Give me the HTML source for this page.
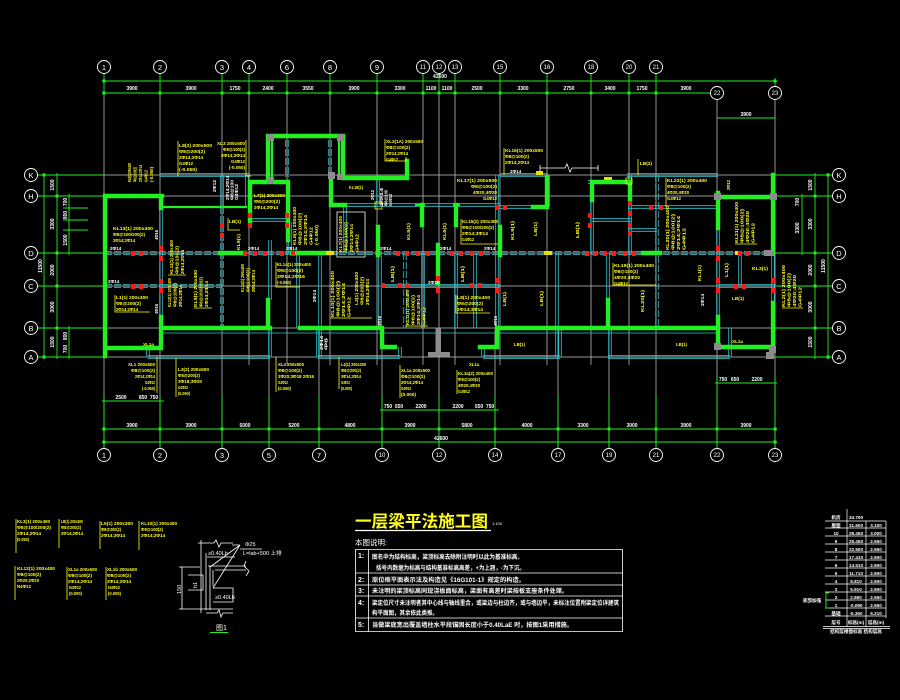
<!DOCTYPE html>
<html><head><meta charset="utf-8"><style>
html,body{margin:0;padding:0;background:#000;}
svg{display:block}
.ax{stroke:#c4c4c4;stroke-width:.75;fill:none}
.gl{stroke:#1ef01e;stroke-width:.9;fill:none}
.wl{stroke:#22f022;stroke-width:4.4;fill:none;stroke-linecap:square}
.wt{stroke:#22f022;stroke-width:2.2;fill:none}
.cy{stroke:#2cc8d0;stroke-width:.8;fill:none}
.cyd{stroke:#2cc8d0;stroke-width:.8;fill:none;stroke-dasharray:7 2}
.ci{stroke:#fff;stroke-width:.9;fill:#000}
.cl{fill:#fff;font:7.5px "Liberation Sans",sans-serif;text-anchor:middle}
.cs{fill:#fff;font:6px "Liberation Sans",sans-serif;text-anchor:middle}
.dt{fill:#fff;font:bold 5px "Liberation Sans",sans-serif;text-anchor:middle}
.y{fill:#ffff1a;font:bold 4.6px "Liberation Sans","Noto Sans CJK SC",sans-serif}
.yl{stroke:#ffff1a;stroke-width:.8;fill:none}
.w{fill:#fff;font:bold 4.5px "Liberation Sans",sans-serif}
.rd{fill:#ff1a1a}
.gy{fill:#8c8c8c}
.n{fill:#fff;font:bold 6px "Liberation Sans","Noto Sans CJK SC",sans-serif}
.tb{fill:#fff;font:bold 4.6px "Liberation Sans","Noto Sans CJK SC",sans-serif;text-anchor:middle}
.wh{stroke:#fff;stroke-width:.8;fill:none}
</style></head><body>
<svg width="900" height="700" viewBox="0 0 900 700" xmlns="http://www.w3.org/2000/svg">
<rect width="900" height="700" fill="#000"/>

<!-- axis lines -->
<path class="ax" d="M104,96V449M160,96V449M222,96V449M249,96V365M287,96V365M330,96V365M377,96V365M423,96V365M439,96V449M455,96V365M500,96V365M547,96V365M591,96V365M629,96V365M656,96V449M717,100V449M775,100V449M269,330V449M319,330V449M382,330V449M495,330V449M558,330V449M609,330V449"/>
<path class="ax" d="M104,175H775M104,196H775M104,253H775M104,286H775M104,328H775M104,357H775"/>
<path class="gl" d="M104,74V96M160,74V96M222,74V96M249,74V96M287,74V96M330,74V96M377,74V96M423,74V96M439,74V96M455,74V96M500,74V96M547,74V96M591,74V96M629,74V96M656,74V96M775,78V86"/>
<path class="gl" d="M104,395V448M160,395V448M222,395V448M269,395V448M319,395V448M382,395V448M439,395V448M495,395V448M558,395V448M609,395V448M656,395V448M717,375V448M775,375V448"/>
<!-- dim lines -->
<path class="gl" d="M102,81H777M102,93H711M717,118H775M102,429H777M102,442H777M102,401H164M380,410H499M715,383H777"/>
<path class="gl" d="M37.5,175H104M37.5,196H104M37.5,253H104M37.5,286H104M37.5,328H104M37.5,357H104M775,175H832.5M775,196H832.5M775,253H832.5M775,286H832.5M775,328H832.5M775,357H832.5"/>
<path class="gl" d="M44,173V359M57,173V359M69,194V255M69,326V359M815,173V359M828,173V359M802,194V255M63,208H88M63,220H88M63,230H88"/>
<g fill="#1ef01e">
<rect x="102.5" y="79.5" width="3" height="3"/><rect x="773.5" y="79.5" width="3" height="3"/>
<rect x="102.5" y="91.5" width="3" height="3"/><rect x="158.5" y="91.5" width="3" height="3"/><rect x="220.5" y="91.5" width="3" height="3"/><rect x="247.5" y="91.5" width="3" height="3"/><rect x="285.5" y="91.5" width="3" height="3"/><rect x="328.5" y="91.5" width="3" height="3"/><rect x="375.5" y="91.5" width="3" height="3"/><rect x="421.5" y="91.5" width="3" height="3"/><rect x="437.5" y="91.5" width="3" height="3"/><rect x="453.5" y="91.5" width="3" height="3"/><rect x="498.5" y="91.5" width="3" height="3"/><rect x="545.5" y="91.5" width="3" height="3"/><rect x="589.5" y="91.5" width="3" height="3"/><rect x="627.5" y="91.5" width="3" height="3"/><rect x="654.5" y="91.5" width="3" height="3"/>
<rect x="102.5" y="427.5" width="3" height="3"/><rect x="158.5" y="427.5" width="3" height="3"/><rect x="220.5" y="427.5" width="3" height="3"/><rect x="267.5" y="427.5" width="3" height="3"/><rect x="317.5" y="427.5" width="3" height="3"/><rect x="380.5" y="427.5" width="3" height="3"/><rect x="437.5" y="427.5" width="3" height="3"/><rect x="493.5" y="427.5" width="3" height="3"/><rect x="556.5" y="427.5" width="3" height="3"/><rect x="607.5" y="427.5" width="3" height="3"/><rect x="654.5" y="427.5" width="3" height="3"/><rect x="715.5" y="427.5" width="3" height="3"/><rect x="773.5" y="427.5" width="3" height="3"/>
<rect x="102.5" y="440.5" width="3" height="3"/><rect x="773.5" y="440.5" width="3" height="3"/>
<rect x="42.5" y="173.5" width="3" height="3"/><rect x="55.5" y="194.5" width="3" height="3"/><rect x="55.5" y="251.5" width="3" height="3"/><rect x="55.5" y="284.5" width="3" height="3"/><rect x="55.5" y="326.5" width="3" height="3"/><rect x="42.5" y="355.5" width="3" height="3"/>
<rect x="813.5" y="194.5" width="3" height="3"/><rect x="813.5" y="251.5" width="3" height="3"/><rect x="813.5" y="284.5" width="3" height="3"/><rect x="813.5" y="326.5" width="3" height="3"/><rect x="826.5" y="173.5" width="3" height="3"/><rect x="826.5" y="355.5" width="3" height="3"/>
</g>

<!-- circles -->
<g class="ci">
<circle cx="104" cy="67" r="6.5"/><circle cx="160" cy="67" r="6.5"/><circle cx="222" cy="67" r="6.5"/><circle cx="249" cy="67" r="6.5"/><circle cx="287" cy="67" r="6.5"/><circle cx="330" cy="67" r="6.5"/><circle cx="377" cy="67" r="6.5"/><circle cx="423" cy="67" r="6.5"/><circle cx="439" cy="67" r="6.5"/><circle cx="455" cy="67" r="6.5"/><circle cx="500" cy="67" r="6.5"/><circle cx="547" cy="67" r="6.5"/><circle cx="591" cy="67" r="6.5"/><circle cx="629" cy="67" r="6.5"/><circle cx="656" cy="67" r="6.5"/><circle cx="717" cy="93" r="6.5"/><circle cx="775" cy="93" r="6.5"/>
<circle cx="104" cy="455" r="6.5"/><circle cx="160" cy="455" r="6.5"/><circle cx="222" cy="455" r="6.5"/><circle cx="269" cy="455" r="6.5"/><circle cx="319" cy="455" r="6.5"/><circle cx="382" cy="455" r="6.5"/><circle cx="439" cy="455" r="6.5"/><circle cx="495" cy="455" r="6.5"/><circle cx="558" cy="455" r="6.5"/><circle cx="609" cy="455" r="6.5"/><circle cx="656" cy="455" r="6.5"/><circle cx="717" cy="455" r="6.5"/><circle cx="775" cy="455" r="6.5"/>
<circle cx="31" cy="175" r="6.5"/><circle cx="31" cy="196" r="6.5"/><circle cx="31" cy="253" r="6.5"/><circle cx="31" cy="286" r="6.5"/><circle cx="31" cy="328" r="6.5"/><circle cx="31" cy="357" r="6.5"/>
<circle cx="839" cy="175" r="6.5"/><circle cx="839" cy="196" r="6.5"/><circle cx="839" cy="253" r="6.5"/><circle cx="839" cy="286" r="6.5"/><circle cx="839" cy="328" r="6.5"/><circle cx="839" cy="357" r="6.5"/>
</g>
<g class="cl">
<text x="104" y="70">1</text><text x="160" y="70">2</text><text x="222" y="70">3</text><text x="249" y="70">4</text><text x="287" y="70">6</text><text x="330" y="70">8</text><text x="377" y="70">9</text>
<text x="104" y="458">1</text><text x="160" y="458">2</text><text x="222" y="458">3</text><text x="269" y="458">5</text><text x="319" y="458">7</text>
<text x="31" y="178">K</text><text x="31" y="199">H</text><text x="31" y="256">D</text><text x="31" y="289">C</text><text x="31" y="331">B</text><text x="31" y="360">A</text>
<text x="839" y="178">K</text><text x="839" y="199">H</text><text x="839" y="256">D</text><text x="839" y="289">C</text><text x="839" y="331">B</text><text x="839" y="360">A</text>
</g>
<g class="cs">
<text x="423" y="69.2">11</text><text x="439" y="69.2">12</text><text x="455" y="69.2">13</text><text x="500" y="69.2">15</text><text x="547" y="69.2">16</text><text x="591" y="69.2">18</text><text x="629" y="69.2">20</text><text x="656" y="69.2">21</text><text x="717" y="95.2">22</text><text x="775" y="95.2">23</text>
<text x="382" y="457.2">10</text><text x="439" y="457.2">12</text><text x="495" y="457.2">14</text><text x="558" y="457.2">17</text><text x="609" y="457.2">19</text><text x="656" y="457.2">21</text><text x="717" y="457.2">22</text><text x="775" y="457.2">23</text>
</g>

<!-- dim texts -->
<g class="dt">
<text x="132" y="90">3900</text><text x="191" y="90">3900</text><text x="235" y="90">1750</text><text x="268" y="90">2400</text><text x="308" y="90">3550</text><text x="354" y="90">3900</text><text x="400" y="90">3300</text><text x="431" y="90">1100</text><text x="447" y="90">1100</text><text x="477" y="90">2500</text><text x="523" y="90">3300</text><text x="569" y="90">2750</text><text x="610" y="90">3400</text><text x="642" y="90">1750</text><text x="686" y="90">3900</text><text x="746" y="116">3900</text><text x="440" y="78">42600</text>
<text x="132" y="427">3900</text><text x="191" y="427">3900</text><text x="245" y="427">5000</text><text x="294" y="427">5200</text><text x="350" y="427">4800</text><text x="410" y="427">3900</text><text x="467" y="427">5800</text><text x="527" y="427">4000</text><text x="583" y="427">3300</text><text x="632" y="427">3000</text><text x="686" y="427">3900</text><text x="746" y="427">3900</text><text x="441" y="440">42600</text>
<text x="121" y="399">2500</text><text x="143" y="399">850</text><text x="154" y="399">750</text>
<text x="388" y="408">750</text><text x="399" y="408">550</text><text x="421" y="408">2200</text><text x="458" y="408">2200</text><text x="479" y="408">550</text><text x="490" y="408">750</text>
<text x="723" y="381">750</text><text x="735" y="381">650</text><text x="757" y="381">2200</text>
</g>
<g class="dt">
<text transform="translate(54,185) rotate(-90)">1500</text><text transform="translate(54,224) rotate(-90)">3300</text><text transform="translate(54,270) rotate(-90)">2000</text><text transform="translate(54,307) rotate(-90)">3000</text><text transform="translate(54,342) rotate(-90)">1500</text><text transform="translate(42,266) rotate(-90)">11500</text>
<text transform="translate(67,202) rotate(-90)">700</text><text transform="translate(67,215) rotate(-90)">800</text><text transform="translate(67,240) rotate(-90)">1500</text><text transform="translate(67,336) rotate(-90)">800</text><text transform="translate(67,349) rotate(-90)">700</text>
<text transform="translate(812,185) rotate(-90)">1500</text><text transform="translate(812,224) rotate(-90)">3300</text><text transform="translate(812,270) rotate(-90)">2000</text><text transform="translate(812,307) rotate(-90)">3000</text><text transform="translate(812,342) rotate(-90)">1500</text><text transform="translate(825,266) rotate(-90)">11500</text>
<text transform="translate(799,228) rotate(-90)">3300</text><text transform="translate(799,202) rotate(-90)">700</text>
</g>

<!-- cyan beams -->
<path class="cy" d="M160,173.7H250M160,176.3H250M500,173.7H548M500,176.3H548M627,173.7H718M627,176.3H718M588,180.7H632M588,183.3H632M628,205.7H718M628,208.3H718M250,218.7H290M250,221.3H290M592,218.7H632M592,221.3H632M628,228.7H657M628,231.3H657M343,203.7H500M343,206.3H500M497,205.7H548M497,208.3H548M382,284.7H500M382,287.3H500M718,284.7H775M718,287.3H775M148,355.7H270M148,358.3H270M318,355.7H400M318,358.3H400M483,355.7H560M483,358.3H560M608,355.7H730M608,358.3H730M163,333H718"/>
<path class="cyd" d="M105,251.7H775M105,254.3H775M105,284.7H162M105,287.3H162M162,284.7H222M162,287.3H222"/>
<path class="cy" d="M159.7,208V317M162.3,208V317M220.7,175V207M223.3,175V207M245.7,175V207M248.3,175V207M268.7,240V300M271.3,240V300M288.7,222V253M291.3,222V253M296.7,253V328M299.3,253V328M318.7,253V357M321.3,253V357M343.7,205V253M346.3,205V253M376.7,175V205M379.3,175V205M378.7,253V328M381.3,253V328M421.7,253V328M424.3,253V328M454.7,253V328M457.3,253V328M473.7,253V328M476.3,253V328M495.7,175V253M498.3,175V253M495.7,253V328M498.3,253V328M546.7,175V207M549.3,175V207M555.7,253V357M558.3,253V357M590.7,182V253M593.3,182V253M606.7,253V300M609.3,253V300M628.7,175V253M631.3,175V253M716.7,228V317M719.3,228V317M738.7,253V286M741.3,253V286M771.7,253V303M774.3,253V303M608.7,328V357M611.3,328V357M728.7,328V357M731.3,328V357M146.7,345V357M149.3,345V357M268.7,328V357M271.3,328V357M316.7,328V357M319.3,328V357M398.7,347V357M401.3,347V357M481.7,347V357M484.3,347V357M558.7,328V357M561.3,328V357"/>
<path class="cyd" d="M220.7,207V328M223.3,207V328M403.7,253V328M406.3,253V328M655.7,175V328M658.3,175V328M285.7,140V177M288.3,140V177M328.7,140V177M331.3,140V177"/>

<!-- green walls -->
<path class="wl" d="M105,196H162M105,196V356M105,348H160M161,196V208M161,317V348M163,328H270M268,300V328M250,222V182H288V240M268,182V136H343V177M331,177V205M343,178H407V161M220,253H245M292,253H330M332,205H345M378,227V255M500,227V255M547,177V207H533M438,245V283M300,328H382V347H395M497,328H718M497,347H480M497,328V347M608,300V328M718,193V228M718,317V347H773M718,197H773M773,175V253M773,303V350M592,200V182H630V200M643,253H660M422,205V225M456,205V225"/>
<path class="wt" d="M163,207H247M415,205H425M453,205H460M272,140V177M339,140V177"/>

<!-- gray / yellow columns -->
<g class="gy">
<rect x="267" y="134" width="7" height="7"/><rect x="337" y="134" width="7" height="7"/><rect x="267" y="177" width="7" height="7"/><rect x="328" y="172" width="7" height="7"/><rect x="337" y="174" width="6" height="6"/>
<rect x="714" y="193" width="7" height="7"/><rect x="770" y="193" width="7" height="7"/><rect x="764" y="250" width="10" height="6"/><rect x="714" y="343" width="7" height="7"/><rect x="769" y="346" width="7" height="7"/><rect x="766" y="352" width="8" height="7"/>
<rect x="435.5" y="328" width="5.5" height="25"/><rect x="428" y="352" width="22" height="4.5"/>
</g>
<g fill="#e8e000">
<rect x="536" y="171" width="7" height="4"/><rect x="326" y="251" width="8" height="4"/><rect x="544" y="251" width="8" height="4"/><rect x="604" y="177" width="8" height="3"/><rect x="735" y="251" width="7" height="4"/>
</g>
<path class="yl" d="M375,202h7v7h-7zM626,178h6v6h-6z"/>

<!-- red columns -->
<g class="rd">
<rect x="159" y="246" width="4" height="5"/><rect x="159" y="256" width="4" height="5"/><rect x="159" y="279" width="4" height="5"/><rect x="159" y="288" width="4" height="5"/><rect x="131" y="251" width="4" height="5"/><rect x="139" y="251" width="4" height="5"/><rect x="131" y="284" width="4" height="5"/><rect x="139" y="284" width="4" height="5"/>
<rect x="220" y="223" width="4" height="5"/><rect x="220" y="233" width="4" height="5"/><rect x="248" y="213" width="4" height="5"/><rect x="248" y="223" width="4" height="5"/><rect x="243" y="251" width="4" height="5"/><rect x="253" y="251" width="4" height="5"/><rect x="263" y="251" width="4" height="5"/><rect x="280" y="251" width="4" height="5"/><rect x="285" y="213" width="4" height="5"/><rect x="285" y="223" width="4" height="5"/><rect x="291" y="251" width="4" height="5"/>
<rect x="396" y="251" width="4" height="5"/><rect x="405" y="251" width="4" height="5"/><rect x="416" y="251" width="4" height="5"/><rect x="426" y="251" width="4" height="5"/><rect x="450" y="251" width="4" height="5"/><rect x="459" y="251" width="4" height="5"/><rect x="470" y="251" width="4" height="5"/><rect x="479" y="251" width="4" height="5"/>
<rect x="381" y="283" width="4" height="5"/><rect x="398" y="283" width="4" height="5"/><rect x="405" y="283" width="4" height="5"/><rect x="436" y="276" width="4" height="5"/><rect x="436" y="288" width="4" height="5"/><rect x="470" y="283" width="4" height="5"/><rect x="478" y="283" width="4" height="5"/><rect x="495" y="278" width="4" height="5"/><rect x="495" y="288" width="4" height="5"/><rect x="495" y="205" width="4" height="5"/><rect x="503" y="205" width="4" height="5"/>
<rect x="585" y="251" width="4" height="5"/><rect x="593" y="251" width="4" height="5"/><rect x="588" y="213" width="4" height="5"/><rect x="588" y="223" width="4" height="5"/>
<rect x="628" y="201" width="4" height="5"/><rect x="628" y="211" width="4" height="5"/><rect x="628" y="223" width="4" height="5"/><rect x="628" y="231" width="4" height="5"/><rect x="649" y="205" width="4" height="5"/><rect x="659" y="205" width="4" height="5"/>
<rect x="603" y="251" width="4" height="5"/><rect x="612" y="251" width="4" height="5"/><rect x="623" y="251" width="4" height="5"/><rect x="632" y="251" width="4" height="5"/>
<rect x="716" y="246" width="4" height="5"/><rect x="716" y="256" width="4" height="5"/><rect x="716" y="278" width="4" height="5"/><rect x="716" y="288" width="4" height="5"/><rect x="734" y="284" width="4" height="5"/><rect x="742" y="284" width="4" height="5"/><rect x="771" y="278" width="4" height="5"/><rect x="771" y="288" width="4" height="5"/><rect x="738" y="251" width="4" height="5"/><rect x="745" y="251" width="4" height="5"/>
</g>

<!-- break line -->
<path class="wh" d="M540,168H565L567,164L570,172L572,168H598M540,165V171M598,165V171"/>
<path class="wh" d="M337,212H365V257H337Z"/>

<!-- yellow leaders -->
<path class="yl" d="M178,141V176M246,140V176H251M385,139V161H406V157M504,148V175M638,159V175M666,178V207M115,295V312H150M228,218V230H240M276,262V287H300M461,219V244H498M456,295V313H490M613,263V285H656M157,357V393M176,358V397M276,357V392M339,357V389M400,365V398M457,370V394M16,519V553M59,519V548M100,521V549M139,521V550M15,566V600M67,567V600M106,567V600M168,275H186M194,308H212M330,318H372M405,326H428M735,244H757M782,308H803"/>

<!-- yellow horizontal blocks -->
<g class="y">
<text x="179" y="147" textLength="33" lengthAdjust="spacingAndGlyphs">L8(2) 200x500</text><text x="179" y="153" textLength="26" lengthAdjust="spacingAndGlyphs">Φ8@200(2)</text><text x="179" y="159" textLength="24" lengthAdjust="spacingAndGlyphs">2Φ14;2Φ14</text><text x="179" y="165" textLength="14" lengthAdjust="spacingAndGlyphs">G4Φ12</text><text x="179" y="171" textLength="18" lengthAdjust="spacingAndGlyphs">(-0.050)</text>
<text x="217" y="145" textLength="28" lengthAdjust="spacingAndGlyphs">XL3 200x500</text><text x="223" y="151" textLength="22" lengthAdjust="spacingAndGlyphs">Φ8@100(2)</text><text x="221" y="157" textLength="24" lengthAdjust="spacingAndGlyphs">3Φ14;3Φ14</text><text x="231" y="163" textLength="14" lengthAdjust="spacingAndGlyphs">G4Φ12</text><text x="229" y="169" textLength="16" lengthAdjust="spacingAndGlyphs">(-0.050)</text>
<text x="386" y="143" textLength="37" lengthAdjust="spacingAndGlyphs">XL2(1A) 200x500</text><text x="386" y="149" textLength="24" lengthAdjust="spacingAndGlyphs">Φ8@100(2)</text><text x="386" y="155" textLength="22" lengthAdjust="spacingAndGlyphs">2Φ14;2Φ14</text><text x="386" y="161" textLength="12" lengthAdjust="spacingAndGlyphs">G4Φ12</text>
<text x="505" y="152" textLength="38" lengthAdjust="spacingAndGlyphs">KL16(1) 200x500</text><text x="505" y="158" textLength="24" lengthAdjust="spacingAndGlyphs">Φ8@100(2)</text><text x="505" y="164" textLength="24" lengthAdjust="spacingAndGlyphs">2Φ14;2Φ14</text>
<text x="640" y="165" textLength="12" lengthAdjust="spacingAndGlyphs">LB(2)</text>
<text x="457" y="182" textLength="40" lengthAdjust="spacingAndGlyphs">KL17(1) 200x500</text><text x="471" y="188" textLength="26" lengthAdjust="spacingAndGlyphs">Φ8@100(2)</text><text x="473" y="194" textLength="24" lengthAdjust="spacingAndGlyphs">4Φ20;4Φ20</text><text x="483" y="200" textLength="14" lengthAdjust="spacingAndGlyphs">G4Φ12</text>
<text x="667" y="182" textLength="40" lengthAdjust="spacingAndGlyphs">KL22(1) 200x400</text><text x="667" y="188" textLength="24" lengthAdjust="spacingAndGlyphs">Φ8@100(2)</text><text x="667" y="194" textLength="22" lengthAdjust="spacingAndGlyphs">4Φ20;4Φ20</text><text x="667" y="200" textLength="14" lengthAdjust="spacingAndGlyphs">G4Φ12</text>
<text x="349" y="189" textLength="14" lengthAdjust="spacingAndGlyphs">KL18(1)</text>
<text x="113" y="230" textLength="40" lengthAdjust="spacingAndGlyphs">KL13(1) 200x400</text><text x="113" y="236" textLength="32" lengthAdjust="spacingAndGlyphs">Φ8@100/200(2)</text><text x="113" y="242" textLength="22" lengthAdjust="spacingAndGlyphs">2Φ14;2Φ14</text>
<text x="116" y="299" textLength="32" lengthAdjust="spacingAndGlyphs">L1(1) 200x300</text><text x="116" y="305" textLength="25" lengthAdjust="spacingAndGlyphs">Φ8@200(2)</text><text x="116" y="311" textLength="22" lengthAdjust="spacingAndGlyphs">2Φ14;2Φ14</text>
<text x="229" y="223" textLength="12" lengthAdjust="spacingAndGlyphs">LB(1)</text>
<text x="254" y="197" textLength="31" lengthAdjust="spacingAndGlyphs">L7(1) 200x300</text><text x="254" y="203" textLength="26" lengthAdjust="spacingAndGlyphs">Φ8@200(2)</text><text x="254" y="209" textLength="24" lengthAdjust="spacingAndGlyphs">2Φ14;2Φ14</text>
<text x="277" y="266" textLength="34" lengthAdjust="spacingAndGlyphs">KL14(1) 200x400</text><text x="277" y="272" textLength="26" lengthAdjust="spacingAndGlyphs">Φ8@100(2)</text><text x="277" y="278" textLength="28" lengthAdjust="spacingAndGlyphs">2Φ14;2Φ16</text><text x="277" y="284" textLength="14" lengthAdjust="spacingAndGlyphs">(-0.050)</text>
<text x="462" y="223" textLength="36" lengthAdjust="spacingAndGlyphs">KL15(2) 200x300</text><text x="462" y="229" textLength="32" lengthAdjust="spacingAndGlyphs">Φ8@100/200(2)</text><text x="462" y="235" textLength="26" lengthAdjust="spacingAndGlyphs">2Φ14;3Φ14</text><text x="462" y="241" textLength="12" lengthAdjust="spacingAndGlyphs">G4Φ12</text>
<text x="457" y="299" textLength="33" lengthAdjust="spacingAndGlyphs">L8(1) 200x400</text><text x="457" y="305" textLength="26" lengthAdjust="spacingAndGlyphs">Φ8@200(2)</text><text x="457" y="311" textLength="26" lengthAdjust="spacingAndGlyphs">2Φ14;3Φ14</text>
<text x="614" y="267" textLength="40" lengthAdjust="spacingAndGlyphs">KL19(1) 200x400</text><text x="614" y="273" textLength="24" lengthAdjust="spacingAndGlyphs">Φ8@100(2)</text><text x="614" y="279" textLength="26" lengthAdjust="spacingAndGlyphs">4Φ20;4Φ20</text><text x="614" y="285" textLength="14" lengthAdjust="spacingAndGlyphs">G4Φ12</text>
<text x="752" y="270" textLength="16" lengthAdjust="spacingAndGlyphs">KL3(1)</text>
<text x="732" y="300" textLength="12" lengthAdjust="spacingAndGlyphs">LB(1)</text>
<text x="128" y="366" textLength="27" lengthAdjust="spacingAndGlyphs">XL1 200x500</text><text x="131" y="372" textLength="24" lengthAdjust="spacingAndGlyphs">Φ8@100(2)</text><text x="135" y="378" textLength="20" lengthAdjust="spacingAndGlyphs">2Φ14;2Φ14</text><text x="145" y="384" textLength="10" lengthAdjust="spacingAndGlyphs">G4Φ12</text><text x="142" y="390" textLength="13" lengthAdjust="spacingAndGlyphs">(-0.050)</text>
<text x="178" y="371" textLength="31" lengthAdjust="spacingAndGlyphs">L3(2) 200x500</text><text x="178" y="377" textLength="22" lengthAdjust="spacingAndGlyphs">Φ8@200(2)</text><text x="178" y="383" textLength="24" lengthAdjust="spacingAndGlyphs">3Φ18;3Φ20</text><text x="178" y="389" textLength="10" lengthAdjust="spacingAndGlyphs">G4Φ12</text><text x="178" y="395" textLength="12" lengthAdjust="spacingAndGlyphs">(0.050)</text>
<text x="278" y="366" textLength="26" lengthAdjust="spacingAndGlyphs">XL4 200x500</text><text x="278" y="372" textLength="24" lengthAdjust="spacingAndGlyphs">Φ8@100(2)</text><text x="278" y="378" textLength="36" lengthAdjust="spacingAndGlyphs">3Φ20;3Φ18 2Φ16</text><text x="278" y="384" textLength="10" lengthAdjust="spacingAndGlyphs">G4Φ12</text><text x="278" y="390" textLength="13" lengthAdjust="spacingAndGlyphs">(0.050)</text>
<text x="341" y="366" textLength="25" lengthAdjust="spacingAndGlyphs">L4(1) 200x300</text><text x="341" y="372" textLength="20" lengthAdjust="spacingAndGlyphs">Φ8@200(2)</text><text x="341" y="378" textLength="20" lengthAdjust="spacingAndGlyphs">3Φ14;3Φ14</text><text x="341" y="384" textLength="9" lengthAdjust="spacingAndGlyphs">G4Φ12</text><text x="341" y="390" textLength="11" lengthAdjust="spacingAndGlyphs">(0.000)</text>
<text x="401" y="372" textLength="29" lengthAdjust="spacingAndGlyphs">XL1a 200x500</text><text x="401" y="378" textLength="24" lengthAdjust="spacingAndGlyphs">Φ8@100(2)</text><text x="401" y="384" textLength="22" lengthAdjust="spacingAndGlyphs">2Φ14;2Φ14</text><text x="401" y="390" textLength="10" lengthAdjust="spacingAndGlyphs">G4Φ12</text><text x="401" y="396" textLength="15" lengthAdjust="spacingAndGlyphs">(0.000)</text>
<text x="469" y="366" textLength="10" lengthAdjust="spacingAndGlyphs">XL1a</text>
<text x="458" y="375" textLength="35" lengthAdjust="spacingAndGlyphs">KL3a(2) 200x400</text><text x="458" y="381" textLength="22" lengthAdjust="spacingAndGlyphs">Φ8@100(2)</text><text x="458" y="387" textLength="22" lengthAdjust="spacingAndGlyphs">4Φ20;4Φ20</text><text x="458" y="393" textLength="12" lengthAdjust="spacingAndGlyphs">G4Φ12</text>
<text x="143" y="346" textLength="11" lengthAdjust="spacingAndGlyphs">XL1a</text><text x="732" y="343" textLength="11" lengthAdjust="spacingAndGlyphs">XL1a</text><text x="514" y="346" textLength="11" lengthAdjust="spacingAndGlyphs">LB(1)</text><text x="676" y="346" textLength="11" lengthAdjust="spacingAndGlyphs">LB(1)</text>
<!-- legend -->
<text x="17" y="523" textLength="33" lengthAdjust="spacingAndGlyphs">KL3(1) 200x400</text><text x="17" y="529" textLength="34" lengthAdjust="spacingAndGlyphs">Φ8@100/200(2)</text><text x="17" y="535" textLength="24" lengthAdjust="spacingAndGlyphs">2Φ14;2Φ14</text><text x="17" y="541" textLength="12" lengthAdjust="spacingAndGlyphs">(0.050)</text>
<text x="61" y="523" textLength="22" lengthAdjust="spacingAndGlyphs">LB(1) 200x300</text><text x="61" y="529" textLength="20" lengthAdjust="spacingAndGlyphs">Φ8@200(2)</text><text x="61" y="535" textLength="22" lengthAdjust="spacingAndGlyphs">2Φ14;2Φ14</text>
<text x="101" y="525" textLength="32" lengthAdjust="spacingAndGlyphs">L5(1) 200x300</text><text x="101" y="531" textLength="20" lengthAdjust="spacingAndGlyphs">Φ8@200(2)</text><text x="101" y="537" textLength="24" lengthAdjust="spacingAndGlyphs">2Φ14;3Φ14</text>
<text x="141" y="525" textLength="36" lengthAdjust="spacingAndGlyphs">KL10(1) 200x400</text><text x="141" y="531" textLength="22" lengthAdjust="spacingAndGlyphs">Φ8@100(2)</text><text x="141" y="537" textLength="24" lengthAdjust="spacingAndGlyphs">2Φ14;2Φ14</text>
<text x="17" y="570" textLength="38" lengthAdjust="spacingAndGlyphs">KL12(1) 200x400</text><text x="17" y="576" textLength="24" lengthAdjust="spacingAndGlyphs">Φ8@100(2)</text><text x="17" y="582" textLength="22" lengthAdjust="spacingAndGlyphs">2Φ20;2Φ20</text><text x="17" y="588" textLength="14" lengthAdjust="spacingAndGlyphs">N4Φ12</text>
<text x="68" y="571" textLength="29" lengthAdjust="spacingAndGlyphs">XL1a 200x500</text><text x="68" y="577" textLength="24" lengthAdjust="spacingAndGlyphs">Φ8@100(2)</text><text x="68" y="583" textLength="24" lengthAdjust="spacingAndGlyphs">2Φ14;2Φ14</text><text x="69" y="589" textLength="12" lengthAdjust="spacingAndGlyphs">N4Φ12</text><text x="69" y="595" textLength="13" lengthAdjust="spacingAndGlyphs">(0.000)</text>
<text x="107" y="571" textLength="30" lengthAdjust="spacingAndGlyphs">XL1b 200x500</text><text x="107" y="577" textLength="24" lengthAdjust="spacingAndGlyphs">Φ8@100(2)</text><text x="107" y="583" textLength="24" lengthAdjust="spacingAndGlyphs">2Φ14;2Φ14</text><text x="108" y="589" textLength="12" lengthAdjust="spacingAndGlyphs">N4Φ12</text><text x="108" y="595" textLength="13" lengthAdjust="spacingAndGlyphs">(0.000)</text>
</g>

<!-- yellow rotated blocks -->
<g class="y">
<g transform="translate(131,182) rotate(-90)"><text y="0" textLength="19" lengthAdjust="spacingAndGlyphs">KL8(1)200x400</text><text y="5.5" textLength="15" lengthAdjust="spacingAndGlyphs">Φ8@100(2)</text><text y="11" textLength="17" lengthAdjust="spacingAndGlyphs">2Φ14;2Φ14</text><text y="16.5" textLength="12" lengthAdjust="spacingAndGlyphs">G4Φ12</text><text y="22" textLength="15" lengthAdjust="spacingAndGlyphs">(-0.050)</text></g>
<g transform="translate(173,274) rotate(-90)"><text y="0" textLength="34" lengthAdjust="spacingAndGlyphs">KL11(1) 200x400</text><text y="5.5" textLength="28" lengthAdjust="spacingAndGlyphs">Φ8@100(2)</text><text y="11" textLength="24" lengthAdjust="spacingAndGlyphs">2Φ14;2Φ14</text></g>
<g transform="translate(171,307) rotate(-90)"><text y="0" textLength="29" lengthAdjust="spacingAndGlyphs">KL12(1) 200x400</text><text y="5.5" textLength="24" lengthAdjust="spacingAndGlyphs">Φ8@100(2)</text><text y="11" textLength="22" lengthAdjust="spacingAndGlyphs">2Φ14;2Φ14</text></g>
<g transform="translate(197,307) rotate(-90)"><text y="0" textLength="37" lengthAdjust="spacingAndGlyphs">KL9(1) 200x400</text><text y="5.5" textLength="30" lengthAdjust="spacingAndGlyphs">Φ8@100/200(2)</text><text y="11" textLength="26" lengthAdjust="spacingAndGlyphs">2Φ14;2Φ14</text></g>
<g transform="translate(240,250) rotate(-90)"><text y="0" textLength="16" lengthAdjust="spacingAndGlyphs">KL9(1)</text></g>
<g transform="translate(244,292) rotate(-90)"><text y="0" textLength="28" lengthAdjust="spacingAndGlyphs">KL14(1) 250x400</text><text y="5.5" textLength="24" lengthAdjust="spacingAndGlyphs">Φ8@100(2)</text><text y="11" textLength="22" lengthAdjust="spacingAndGlyphs">2Φ14;2Φ14</text></g>
<g transform="translate(296,245) rotate(-90)"><text y="0" textLength="38" lengthAdjust="spacingAndGlyphs">KL6(1) 200x400</text><text y="5.5" textLength="32" lengthAdjust="spacingAndGlyphs">Φ8@100(2)</text><text y="11" textLength="30" lengthAdjust="spacingAndGlyphs">2Φ14;2Φ14</text><text y="16.5" textLength="18" lengthAdjust="spacingAndGlyphs">G4Φ12</text><text y="22" textLength="20" lengthAdjust="spacingAndGlyphs">(-0.050)</text></g>
<g transform="translate(342,252) rotate(-90)"><text y="0" textLength="36" lengthAdjust="spacingAndGlyphs">KL7(1) 200x400</text><text y="5.5" textLength="30" lengthAdjust="spacingAndGlyphs">Φ8@100(2)</text><text y="11" textLength="28" lengthAdjust="spacingAndGlyphs">2Φ14;2Φ14</text><text y="16.5" textLength="18" lengthAdjust="spacingAndGlyphs">G4Φ12</text></g>
<g transform="translate(410,240) rotate(-90)"><text y="0" textLength="17" lengthAdjust="spacingAndGlyphs">KL5(1)</text></g>
<g transform="translate(446,240) rotate(-90)"><text y="0" textLength="17" lengthAdjust="spacingAndGlyphs">KL6(1)</text></g>
<g transform="translate(514,240) rotate(-90)"><text y="0" textLength="19" lengthAdjust="spacingAndGlyphs">KL9(1)</text></g>
<g transform="translate(537,236) rotate(-90)"><text y="0" textLength="14" lengthAdjust="spacingAndGlyphs">LB(1)</text></g>
<g transform="translate(579,238) rotate(-90)"><text y="0" textLength="16" lengthAdjust="spacingAndGlyphs">LB(1)</text></g>
<g transform="translate(334,317) rotate(-90)"><text y="0" textLength="46" lengthAdjust="spacingAndGlyphs">KL10(1) 200x400</text><text y="5.5" textLength="36" lengthAdjust="spacingAndGlyphs">Φ8@100(2)</text><text y="11" textLength="34" lengthAdjust="spacingAndGlyphs">2Φ14;2Φ14</text><text y="16.5" textLength="20" lengthAdjust="spacingAndGlyphs">G4Φ12</text></g>
<g transform="translate(358,305) rotate(-90)"><text y="0" textLength="33" lengthAdjust="spacingAndGlyphs">L2(1) 200x300</text><text y="5.5" textLength="28" lengthAdjust="spacingAndGlyphs">Φ8@200(2)</text><text y="11" textLength="26" lengthAdjust="spacingAndGlyphs">2Φ14;2Φ14</text></g>
<g transform="translate(394,282) rotate(-90)"><text y="0" textLength="16" lengthAdjust="spacingAndGlyphs">LB(1)</text></g>
<g transform="translate(464,282) rotate(-90)"><text y="0" textLength="16" lengthAdjust="spacingAndGlyphs">LB(1)</text></g>
<g transform="translate(409,325) rotate(-90)"><text y="0" textLength="35" lengthAdjust="spacingAndGlyphs">KL11(1) 200x400</text><text y="5.5" textLength="30" lengthAdjust="spacingAndGlyphs">Φ8@100(2)</text><text y="11" textLength="30" lengthAdjust="spacingAndGlyphs">2Φ14;2Φ14</text><text y="16.5" textLength="18" lengthAdjust="spacingAndGlyphs">G4Φ12</text></g>
<g transform="translate(506,306) rotate(-90)"><text y="0" textLength="14" lengthAdjust="spacingAndGlyphs">LB(1)</text></g>
<g transform="translate(543,306) rotate(-90)"><text y="0" textLength="15" lengthAdjust="spacingAndGlyphs">LB(1)</text></g>
<g transform="translate(644,312) rotate(-90)"><text y="0" textLength="22" lengthAdjust="spacingAndGlyphs">KL20(1)</text></g>
<g transform="translate(701,281) rotate(-90)"><text y="0" textLength="16" lengthAdjust="spacingAndGlyphs">KL1(1)</text></g>
<g transform="translate(728,277) rotate(-90)"><text y="0" textLength="14" lengthAdjust="spacingAndGlyphs">L1(1)</text></g>
<g transform="translate(738,243) rotate(-90)"><text y="0" textLength="41" lengthAdjust="spacingAndGlyphs">KL21(1) 200x400</text><text y="5.5" textLength="34" lengthAdjust="spacingAndGlyphs">Φ8@100(2)</text><text y="11" textLength="32" lengthAdjust="spacingAndGlyphs">4Φ20;4Φ20</text><text y="16.5" textLength="20" lengthAdjust="spacingAndGlyphs">G4Φ12</text></g>
<g transform="translate(669,250) rotate(-90)"><text y="0" textLength="44" lengthAdjust="spacingAndGlyphs">KL20(1) 200x400</text><text y="5.5" textLength="36" lengthAdjust="spacingAndGlyphs">Φ8@100(2)</text><text y="11" textLength="34" lengthAdjust="spacingAndGlyphs">2Φ14;2Φ14</text><text y="16.5" textLength="22" lengthAdjust="spacingAndGlyphs">G4Φ12</text></g>
<g transform="translate(785,307) rotate(-90)"><text y="0" textLength="42" lengthAdjust="spacingAndGlyphs">KL2(1) 200x400</text><text y="5.5" textLength="34" lengthAdjust="spacingAndGlyphs">Φ8@100(2)</text><text y="11" textLength="32" lengthAdjust="spacingAndGlyphs">4Φ20;4Φ20</text><text y="16.5" textLength="20" lengthAdjust="spacingAndGlyphs">G4Φ12</text></g>
<g transform="translate(730,190) rotate(-90)"><text y="0" textLength="10" lengthAdjust="spacingAndGlyphs">2Φ12</text></g>
</g>

<!-- white small texts -->
<g class="w">
<text x="110" y="250">2Φ14</text><text x="248" y="250">2Φ14</text><text x="286" y="250">2Φ14</text><text x="380" y="250">2Φ14</text><text x="440" y="250">2Φ14</text><text x="484" y="250">2Φ14</text><text x="108" y="283">2Φ14</text><text x="510" y="173">2Φ14</text><text x="428" y="284">2Φ18</text>
<g transform="translate(158,240) rotate(-90)"><text textLength="10" lengthAdjust="spacingAndGlyphs">4Φ16</text></g>
<g transform="translate(158,314) rotate(-90)"><text textLength="10" lengthAdjust="spacingAndGlyphs">4Φ16</text></g>
<g transform="translate(216,192) rotate(-90)"><text textLength="12" lengthAdjust="spacingAndGlyphs">2Φ12</text></g>
<g transform="translate(229,200) rotate(-90)"><text y="0" textLength="24" lengthAdjust="spacingAndGlyphs">2Φ14;2Φ14</text><text y="4.5" textLength="20" lengthAdjust="spacingAndGlyphs">Φ8@100</text><text y="9" textLength="16" lengthAdjust="spacingAndGlyphs">G4Φ12</text></g>
<g transform="translate(383,206) rotate(-90)"><text y="0" textLength="18" lengthAdjust="spacingAndGlyphs">2Φ14</text><text y="4.5" textLength="16" lengthAdjust="spacingAndGlyphs">Φ8@100</text><text y="9" textLength="12" lengthAdjust="spacingAndGlyphs">G4Φ12</text></g>
<g transform="translate(374,200) rotate(-90)"><text textLength="10" lengthAdjust="spacingAndGlyphs">2Φ12</text></g>
<g transform="translate(316,302) rotate(-90)"><text textLength="12" lengthAdjust="spacingAndGlyphs">2Φ14</text></g>
<g transform="translate(381,326) rotate(-90)"><text textLength="10" lengthAdjust="spacingAndGlyphs">4Φ16</text></g>
<g transform="translate(497,326) rotate(-90)"><text textLength="10" lengthAdjust="spacingAndGlyphs">4Φ16</text></g>
<g transform="translate(323,350) rotate(-90)"><text y="0" textLength="14" lengthAdjust="spacingAndGlyphs">2Φ14</text><text y="4.5" textLength="12" lengthAdjust="spacingAndGlyphs">Φ8</text></g>
<g transform="translate(704,306) rotate(-90)"><text textLength="12" lengthAdjust="spacingAndGlyphs">2Φ14</text></g>
</g>

<!-- detail figure 1 -->
<path class="wh" d="M198,543H214L216,540L219,547L221,543H233M201,540V613M206,553V610M210,566V610M213,570V586M208,566H246M215,570H246M246,561L244,566L249,571L246,576M207,557H235M213,588H233V602H213M180,609H233M206,613H217L219,610L221,617L223,613H233M182,567V609M179,567H200M179,609H185M188,575H203V590H188M210,567L240,545M213,588L240,545M232,545H240M240,549H262"/>
<g class="w" style="font-size:5.5px;font-weight:normal">
<text x="208" y="555">≥0.40Lb</text><text x="215" y="599">≥0.40Lb</text><text x="245" y="546">Φ25</text><text x="243" y="555">L=lab+500 上排</text>
<g transform="translate(181,594) rotate(-90)"><text>150</text></g>
<g transform="translate(197,588) rotate(-90)"><text>h1</text></g>
</g>
<text x="216" y="630" style="fill:#fff;font:7px 'Liberation Sans','Noto Sans CJK SC',sans-serif">图1</text>
<path d="M210,632.5H228" stroke="#1ef01e" stroke-width="1"/>

<!-- title -->
<text x="355" y="527" textLength="133" lengthAdjust="spacingAndGlyphs" style="fill:#ffff1a;font:bold 16.5px 'Liberation Sans','Noto Sans CJK SC',sans-serif">一层梁平法施工图</text>
<path d="M355,530.5H491" stroke="#fff" stroke-width="1.2"/>
<text x="492" y="525" style="fill:#fff;font:4px 'Liberation Sans',sans-serif">1:100</text>
<text x="355" y="545" style="fill:#fff;font:7.5px 'Liberation Sans','Noto Sans CJK SC',sans-serif">本图说明:</text>

<!-- notes box -->
<path class="wh" d="M355.5,549.5H622.5V631.5H355.5ZM368.5,549.5V631.5M355.5,573H622.5M355.5,585H622.5M355.5,596H622.5M355.5,618H622.5"/>
<g class="n">
<text x="358" y="558" style="font-size:7px">1:</text><text x="358" y="582" style="font-size:7px">2:</text><text x="358" y="593" style="font-size:7px">3:</text><text x="358" y="605" style="font-size:7px">4:</text><text x="358" y="627" style="font-size:7px">5:</text>
<text x="372" y="559" textLength="151" lengthAdjust="spacingAndGlyphs">图名中为结构标高，梁顶标高去除附注明时以此为基准标高。</text>
<text x="376" y="570" textLength="149" lengthAdjust="spacingAndGlyphs">括号内数据为标高与结构基准标高高差，+为上翘，-为下沉。</text>
<text x="372" y="582" textLength="153" lengthAdjust="spacingAndGlyphs">原位框平面表示法及构造见《16G101-1》规定的构造。</text>
<text x="372" y="593" textLength="196" lengthAdjust="spacingAndGlyphs">未注明的梁顶标高同现浇板面标高，梁面有高差时梁按板支座条件处理。</text>
<text x="372" y="605" textLength="247" lengthAdjust="spacingAndGlyphs">梁定位尺寸未注明者其中心线与轴线重合，或梁边与柱边齐，或与墙边平，未标注位置附梁定位详建筑</text>
<text x="372" y="615" textLength="66" lengthAdjust="spacingAndGlyphs">构平面图，其余依此类推。</text>
<text x="372" y="627" textLength="201" lengthAdjust="spacingAndGlyphs">当做梁底宽出覆盖墙柱水平段锚固长度小于0.40LaE 时，按图1采用措施。</text>
</g>

<!-- level table -->
<path class="wh" style="stroke-width:.7" d="M847,509V627M866,521V627M886,521V618M825,521H886M825,528H886M825,536H886M825,544H886M825,552H886M825,560H886M825,568H886M825,576H886M825,584H886M825,592H886M825,600H886M825,608H886M825,616H886M823,626.5H890M823,628.5H890"/>
<g class="tb">
<text x="836" y="519">机房</text><text x="856" y="519">34.700</text>
<text x="836" y="527">屋面</text><text x="856" y="527">31.600</text><text x="876" y="527">3.100</text>
<text x="836" y="535">10</text><text x="856" y="535">28.450</text><text x="876" y="535">3.000</text>
<text x="836" y="543">9</text><text x="856" y="543">25.450</text><text x="876" y="543">2.950</text>
<text x="836" y="551">8</text><text x="856" y="551">22.500</text><text x="876" y="551">2.950</text>
<text x="836" y="559">7</text><text x="856" y="559">17.410</text><text x="876" y="559">2.900</text>
<text x="836" y="567">6</text><text x="856" y="567">14.510</text><text x="876" y="567">2.900</text>
<text x="836" y="575">5</text><text x="856" y="575">11.710</text><text x="876" y="575">2.900</text>
<text x="836" y="583">4</text><text x="856" y="583">8.810</text><text x="876" y="583">2.900</text>
<text x="836" y="591">3</text><text x="856" y="591">5.910</text><text x="876" y="591">2.900</text>
<text x="836" y="599">2</text><text x="856" y="599">2.860</text><text x="876" y="599">2.950</text>
<text x="836" y="607">1</text><text x="856" y="607">-0.090</text><text x="876" y="607">2.950</text>
<text x="836" y="615">基础</text><text x="856" y="615">-5.350</text><text x="876" y="615">5.210</text>
<text x="836" y="624">层号</text><text x="856" y="624">标高(m)</text><text x="876" y="624">层高(m)</text>
<text x="856" y="633">结构层楼面标高 结构层高</text>
<text x="812" y="602">底部加强</text>
</g>
<path d="M829,593H826V608H829" stroke="#1ef01e" stroke-width=".9" fill="none"/>
</svg>
</body></html>
